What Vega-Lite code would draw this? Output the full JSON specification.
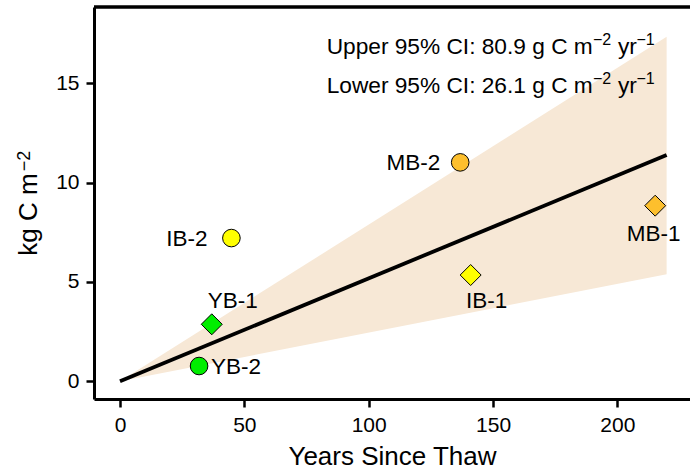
{
  "$schema": "https://vega.github.io/schema/vega-lite/v6.json",
  "width": 596,
  "height": 392,
  "autosize": "none",
  "padding": {"left": 94, "top": 7, "right": 0, "bottom": 73},
  "background": "white",
  "config": {
    "view": {"stroke": null},
    "font": "Liberation Sans",
    "axis": {
      "grid": false,
      "domainColor": "black",
      "domainWidth": 3,
      "tickColor": "black",
      "tickWidth": 2.5,
      "tickSize": 8,
      "labelColor": "black",
      "labelFontSize": 21,
      "labelPadding": 7,
      "titleColor": "black",
      "titleFontSize": 26,
      "titleFontWeight": "normal"
    }
  },
  "datasets": {
    "sites": [
      {"site": "YB-2", "group": "YB", "core": "2", "years": 31.8, "kg": 0.77},
      {"site": "YB-1", "group": "YB", "core": "1", "years": 36.9, "kg": 2.87},
      {"site": "IB-2", "group": "IB", "core": "2", "years": 44.8, "kg": 7.21},
      {"site": "IB-1", "group": "IB", "core": "1", "years": 141.0, "kg": 5.35},
      {"site": "MB-2", "group": "MB", "core": "2", "years": 136.8, "kg": 11.02},
      {"site": "MB-1", "group": "MB", "core": "1", "years": 215.2, "kg": 8.84}
    ],
    "fit": [
      {"years": 0, "kg": 0, "lower": 0, "upper": 0},
      {"years": 219.8, "kg": 11.39, "lower": 5.39, "upper": 17.34}
    ],
    "ci": [
      {"label": "Upper 95% CI: 80.9 g C m", "pos": 16.46},
      {"label": "Lower 95% CI: 26.1 g C m", "pos": 14.5}
    ]
  },
  "layer": [
    {
      "data": {"name": "fit"},
      "mark": {"type": "area", "color": "#F7E8D6", "opacity": 1},
      "encoding": {
        "x": {
          "field": "years",
          "type": "quantitative",
          "scale": {"domain": [-10.45, 229.2], "nice": false, "zero": false},
          "axis": {"values": [0, 50, 100, 150, 200], "title": "Years Since Thaw", "titlePadding": 8}
        },
        "y": {
          "field": "lower",
          "type": "quantitative",
          "scale": {"domain": [-0.89, 18.84], "nice": false, "zero": false},
          "axis": {"values": [0, 5, 10, 15], "title": "kg C m", "titlePadding": 14, "titleY": 207}
        },
        "y2": {"field": "upper"}
      }
    },
    {
      "data": {"name": "fit"},
      "mark": {"type": "line", "color": "black", "strokeWidth": 3.8, "strokeCap": "butt"},
      "encoding": {
        "x": {"field": "years", "type": "quantitative"},
        "y": {"field": "kg", "type": "quantitative"}
      }
    },
    {
      "data": {"name": "fit"},
      "mark": {"type": "rule", "color": "black", "strokeWidth": 3},
      "encoding": {
        "y": {"datum": 18.84, "type": "quantitative"}
      }
    },
    {
      "data": {"name": "sites"},
      "mark": {"type": "point", "filled": true, "opacity": 1, "stroke": "black", "strokeWidth": 1},
      "encoding": {
        "x": {"field": "years", "type": "quantitative"},
        "y": {"field": "kg", "type": "quantitative"},
        "fill": {
          "field": "group",
          "type": "nominal",
          "scale": {"domain": ["YB", "IB", "MB"], "range": ["#00EE00", "#FFFF00", "#FDBF2D"]},
          "legend": null
        },
        "shape": {
          "field": "core",
          "type": "nominal",
          "scale": {"domain": ["1", "2"], "range": ["diamond", "circle"]},
          "legend": null
        },
        "size": {
          "field": "core",
          "type": "nominal",
          "scale": {"domain": ["1", "2"], "range": [440, 310]},
          "legend": null
        }
      }
    },
    {
      "data": {"name": "sites"},
      "transform": [{"filter": "datum.site === 'YB-2'"}],
      "mark": {"type": "text", "fontSize": 22.5, "color": "black", "align": "left", "baseline": "alphabetic", "dx": 12, "dy": 8},
      "encoding": {"x": {"field": "years", "type": "quantitative"}, "y": {"field": "kg", "type": "quantitative"}, "text": {"field": "site"}}
    },
    {
      "data": {"name": "sites"},
      "transform": [{"filter": "datum.site === 'YB-1'"}],
      "mark": {"type": "text", "fontSize": 22.5, "color": "black", "align": "center", "baseline": "alphabetic", "dx": 21, "dy": -16.5},
      "encoding": {"x": {"field": "years", "type": "quantitative"}, "y": {"field": "kg", "type": "quantitative"}, "text": {"field": "site"}}
    },
    {
      "data": {"name": "sites"},
      "transform": [{"filter": "datum.site === 'IB-2'"}],
      "mark": {"type": "text", "fontSize": 22.5, "color": "black", "align": "right", "baseline": "alphabetic", "dx": -24, "dy": 8},
      "encoding": {"x": {"field": "years", "type": "quantitative"}, "y": {"field": "kg", "type": "quantitative"}, "text": {"field": "site"}}
    },
    {
      "data": {"name": "sites"},
      "transform": [{"filter": "datum.site === 'IB-1'"}],
      "mark": {"type": "text", "fontSize": 22.5, "color": "black", "align": "center", "baseline": "alphabetic", "dx": 16, "dy": 33},
      "encoding": {"x": {"field": "years", "type": "quantitative"}, "y": {"field": "kg", "type": "quantitative"}, "text": {"field": "site"}}
    },
    {
      "data": {"name": "sites"},
      "transform": [{"filter": "datum.site === 'MB-2'"}],
      "mark": {"type": "text", "fontSize": 22.5, "color": "black", "align": "right", "baseline": "alphabetic", "dx": -20, "dy": 8},
      "encoding": {"x": {"field": "years", "type": "quantitative"}, "y": {"field": "kg", "type": "quantitative"}, "text": {"field": "site"}}
    },
    {
      "data": {"name": "sites"},
      "transform": [{"filter": "datum.site === 'MB-1'"}],
      "mark": {"type": "text", "fontSize": 22.5, "color": "black", "align": "center", "baseline": "alphabetic", "dx": -1.5, "dy": 35},
      "encoding": {"x": {"field": "years", "type": "quantitative"}, "y": {"field": "kg", "type": "quantitative"}, "text": {"field": "site"}}
    },
    {
      "data": {"name": "ci"},
      "mark": {"type": "text", "fontSize": 22.7, "color": "black", "align": "left", "baseline": "alphabetic"},
      "encoding": {
        "x": {"datum": 83.1},
        "y": {"field": "pos", "type": "quantitative"},
        "text": {"field": "label", "type": "nominal"}
      }
    },
    {
      "data": {"name": "ci"},
      "mark": {"type": "text", "text": "−2", "fontSize": 16, "color": "black", "align": "left", "baseline": "alphabetic", "dy": -9.5},
      "encoding": {
        "x": {"datum": 190.2},
        "y": {"field": "pos", "type": "quantitative"}
      }
    },
    {
      "data": {"name": "ci"},
      "mark": {"type": "text", "text": "yr", "fontSize": 22.7, "color": "black", "align": "left", "baseline": "alphabetic"},
      "encoding": {
        "x": {"datum": 200.2},
        "y": {"field": "pos", "type": "quantitative"}
      }
    },
    {
      "data": {"name": "ci"},
      "mark": {"type": "text", "text": "−1", "fontSize": 16, "color": "black", "align": "left", "baseline": "alphabetic", "dy": -9.5},
      "encoding": {
        "x": {"datum": 207.7},
        "y": {"field": "pos", "type": "quantitative"}
      }
    },
    {
      "data": {"values": [{"unit": "−2"}]},
      "mark": {"type": "text", "fontSize": 18, "color": "black", "align": "center", "baseline": "alphabetic", "angle": 270},
      "encoding": {
        "x": {"datum": -36.2},
        "y": {"datum": 11.09},
        "text": {"field": "unit", "type": "nominal"}
      }
    }
  ]
}
